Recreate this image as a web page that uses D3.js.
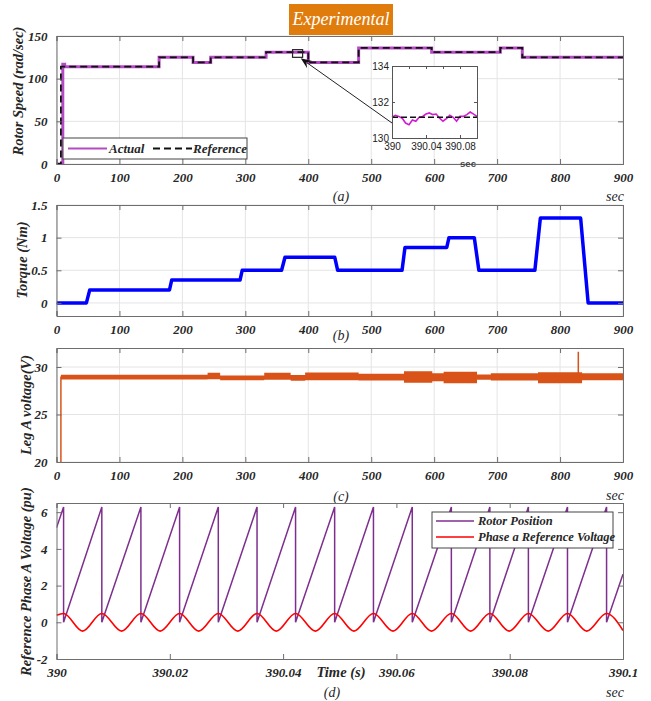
<!DOCTYPE html>
<html><head><meta charset="utf-8">
<script src="https://d3js.org/d3.v7.min.js"></script>
<style>
html,body{margin:0;padding:0;background:#fff}
svg text{font-family:"Liberation Serif","Times New Roman","DejaVu Serif",serif}
svg text.sans{font-family:"Liberation Sans",Arial,sans-serif}
</style>
</head><body>
<script>
// ---------- DATA ----------
const xTicksMain = [0,100,200,300,400,500,600,700,800,900];
// (a) rotor speed
const speedRefX = [0, 7, 163, 217, 245, 333, 400, 480, 596, 705, 740, 900];
const speedRefV = [0, 114, 125, 119, 125, 131, 119, 136, 131, 136, 125, 125];
const speedActX = [0, 10, 13, 163, 217, 245, 333, 400, 480, 596, 705, 740, 900];
const speedActV = [0, 117, 114, 125, 119, 125, 131, 119, 136, 131, 136, 125, 125];
const speedTicks = [0,50,100,150];
// inset
const insetT = [390,390.004,390.008,390.012,390.016,390.02,390.024,390.028,390.032,390.036,390.04,390.044,390.048,390.052,390.056,390.06,390.064,390.068,390.072,390.076,390.08,390.084,390.088,390.092,390.096,390.1];
const insetActual = [131.15,131.26,131.2,131.1,130.83,130.74,131.0,130.93,131.15,131.2,131.33,131.39,131.3,131.33,131.1,130.93,131.07,131.26,131.15,130.93,131.2,131.2,131.3,131.44,131.33,131.2];
const insetRef = 131.15;
const insetXTicks = [390, 390.04, 390.08];
const insetXLabels = ["390", "390.04", "390.08"];
const insetYTicks = [130, 132, 134];
// (b) torque
const torqueX = [0, 47.5, 52.8, 179.5, 183, 291.6, 295, 357.6, 363, 442, 446.7, 549, 553.6, 620, 623.5, 663.8, 671, 760, 768.7, 832.7, 844.6, 900];
const torqueV = [0, 0, 0.2, 0.2, 0.35, 0.35, 0.5, 0.5, 0.7, 0.7, 0.5, 0.5, 0.85, 0.85, 1.0, 1.0, 0.5, 0.5, 1.3, 1.3, 0, 0];
const torqueTicks = [0, 0.5, 1, 1.5];
// (c) leg A voltage band (segment breakpoints, upper/lower envelope)
const legX  = [7, 240, 260, 330, 372, 395, 480, 552, 597, 615, 668, 690, 765, 835, 900];
const legHi = [29.18, 29.4, 29.1, 29.4, 29.15, 29.42, 29.28, 29.55, 29.35, 29.5, 29.2, 29.33, 29.45, 29.33];
const legLo = [28.68, 28.72, 28.6, 28.65, 28.55, 28.6, 28.57, 28.35, 28.5, 28.3, 28.65, 28.57, 28.28, 28.6];
const legStartV = [20, 29.0];
const legSpike = {x: 829, v: 31.6};
const legTicks = [20, 25, 30];
// (d) rotor position & phase a reference voltage
const dXTicks = [390, 390.02, 390.04, 390.06, 390.08, 390.1];
const dXLabels = ["390", "390.02", "390.04", "390.06", "390.08", "390.1"];
const dYTicks = [-2, 0, 2, 4, 6];
const rotorResets = [390.00125, 390.0080, 390.0149, 390.02173, 390.02856, 390.0354, 390.0422, 390.0491, 390.05595, 390.0628, 390.0697, 390.0765, 390.0833, 390.0902, 390.0971];
const rotorStart = 5.15, rotorEnd = 2.62, rotorPeak = 6.28;
const phasePeakT = rotorResets;
const phaseTroughT = [390.0046, 390.0115, 390.0183, 390.0251, 390.0320, 390.0388, 390.0457, 390.0525, 390.0594, 390.0662, 390.0731, 390.0799, 390.0868, 390.0936];
const phasePeak = 0.48, phaseTrough = -0.48, phaseStart = 0.38, phaseEnd = -0.45;

// ---------- LAYOUT ----------
const W = 651, H = 701, XL = 56.5, XR = 623;
const svg = d3.select("body").append("svg").attr("width", W).attr("height", H);
svg.append("rect").attr("width", W).attr("height", H).attr("fill", "#fff");

let clipN = 0;
function panel(o) {
  const x = d3.scaleLinear().domain(o.xd).range([XL, XR]);
  const y = d3.scaleLinear().domain(o.yd).range([o.bottom, o.top]);
  const g = svg.append("g");
  const id = "clip" + (clipN++);
  svg.append("clipPath").attr("id", id).append("rect")
    .attr("x", XL).attr("y", o.top).attr("width", XR - XL).attr("height", o.bottom - o.top);
  if (o.grid) {
    g.selectAll(".gx").data(o.xticks).enter().append("line")
      .attr("x1", d => x(d)).attr("x2", d => x(d)).attr("y1", o.top).attr("y2", o.bottom)
      .attr("stroke", "#e4e4e4").attr("stroke-width", 1);
    g.selectAll(".gy").data(o.yticks).enter().append("line")
      .attr("y1", d => y(d)).attr("y2", d => y(d)).attr("x1", XL).attr("x2", XR)
      .attr("stroke", "#e4e4e4").attr("stroke-width", 1);
  }
  const plot = svg.append("g").attr("clip-path", `url(#${id})`);
  const front = svg.append("g");
  const axB = d3.axisBottom(x).tickValues(o.xticks).tickSize(-5).tickPadding(9)
    .tickFormat((d, i) => o.xlabels ? o.xlabels[i] : d3.format("d")(d));
  const axL = d3.axisLeft(y).tickValues(o.yticks).tickSize(-5).tickPadding(9)
    .tickFormat(d => d);
  const axT = d3.axisTop(x).tickValues(o.xticks).tickSize(-5).tickFormat("");
  const axR = d3.axisRight(y).tickValues(o.yticks).tickSize(-5).tickFormat("");
  const gB = front.append("g").attr("transform", `translate(0,${o.bottom})`).call(axB);
  const gL = front.append("g").attr("transform", `translate(${XL},0)`).call(axL);
  const gT = front.append("g").attr("transform", `translate(0,${o.top})`).call(axT);
  const gR = front.append("g").attr("transform", `translate(${XR},0)`).call(axR);
  [gB, gL, gT, gR].forEach(a => {
    a.attr("font-family", null);
    a.select(".domain").attr("stroke", "#6e6e6e").attr("stroke-width", 1);
    a.selectAll(".tick line").attr("stroke", "#6e6e6e");
    a.selectAll("text").style("font-style", "italic").style("font-weight", "bold")
      .style("font-size", "13px").attr("fill", "#262626");
  });
  return {x, y, plot, front};
}

function ylabel(text, xb, ymid, anchor) {
  svg.append("text").attr("transform", `translate(${xb},${ymid}) rotate(-90)`)
    .attr("text-anchor", anchor || "middle").style("font-style", "italic").style("font-weight", "bold")
    .style("font-size", "14.5px").attr("fill", "#262626").text(text);
}
function caption(text, xc, yb, size) {
  svg.append("text").attr("x", xc).attr("y", yb).attr("text-anchor", "middle")
    .style("font-style", "italic").style("font-size", (size || 14) + "px").attr("fill", "#262626").text(text);
}

// ---------- TITLE ----------
svg.append("rect").attr("x", 289).attr("y", 4).attr("width", 104).attr("height", 31).attr("fill", "#E07C0C");
svg.append("text").attr("x", 341).attr("y", 25).attr("text-anchor", "middle").attr("fill", "#fff")
  .style("font-style", "italic").style("font-size", "18px").text("Experimental");

// ---------- (a) ----------
const A = panel({top: 36, bottom: 164, xd: [0, 900], yd: [0, 150], xticks: xTicksMain, yticks: speedTicks, grid: true});
const stepLine = (sx, sy) => d3.line().x(d => sx(d[0])).y(d => sy(d[1])).curve(d3.curveStepAfter);
A.plot.append("path").datum(speedActX.map((v, i) => [v, speedActV[i]]))
  .attr("d", stepLine(A.x, A.y)).attr("fill", "none").attr("stroke", "#B54BC4").attr("stroke-width", 3);
A.plot.append("path").datum(speedRefX.map((v, i) => [v, speedRefV[i]]))
  .attr("d", stepLine(A.x, A.y)).attr("fill", "none").attr("stroke", "#111").attr("stroke-width", 1.8)
  .attr("stroke-dasharray", "7,4");
A.front.append("rect").attr("x", A.x(375)).attr("y", A.y(134)).attr("width", A.x(391) - A.x(375))
  .attr("height", A.y(125) - A.y(134)).attr("fill", "none").attr("stroke", "#222").attr("stroke-width", 1.2);
// legend (a)
A.front.append("rect").attr("x", 63).attr("y", 138).attr("width", 184).attr("height", 21)
  .attr("fill", "#fff").attr("stroke", "#444").attr("stroke-width", 1);
A.front.append("line").attr("x1", 68).attr("x2", 107).attr("y1", 148.5).attr("y2", 148.5)
  .attr("stroke", "#B54BC4").attr("stroke-width", 2);
A.front.append("text").attr("x", 109).attr("y", 153).style("font-style", "italic").style("font-weight", "bold")
  .style("font-size", "13px").attr("fill", "#262626").text("Actual");
A.front.append("line").attr("x1", 153).attr("x2", 192).attr("y1", 148.5).attr("y2", 148.5)
  .attr("stroke", "#111").attr("stroke-width", 2).attr("stroke-dasharray", "7,4");
A.front.append("text").attr("x", 193).attr("y", 153).style("font-style", "italic").style("font-weight", "bold")
  .style("font-size", "13px").attr("fill", "#262626").text("Reference");
ylabel("Rotor Speed (rad/sec)", 23, 91);
caption("(a)", 341, 201);
caption("sec", 615, 201);

// inset
(function () {
  const L = 392, R = 477, T = 66, B = 138;
  const ix = d3.scaleLinear().domain([390, 390.1]).range([L, R]);
  const iy = d3.scaleLinear().domain([130, 134]).range([B, T]);
  const g = svg.append("g");
  g.append("rect").attr("x", L).attr("y", T).attr("width", R - L).attr("height", B - T).attr("fill", "#fff");
  g.append("path").datum(insetT.map((t, i) => [t, insetActual[i]]))
    .attr("d", d3.line().x(d => ix(d[0])).y(d => iy(d[1]))).attr("fill", "none")
    .attr("stroke", "#D21CD2").attr("stroke-width", 1.6);
  g.append("line").attr("x1", ix(390)).attr("x2", ix(390.1)).attr("y1", iy(insetRef)).attr("y2", iy(insetRef))
    .attr("stroke", "#111").attr("stroke-width", 1.5).attr("stroke-dasharray", "6,3");
  const ab = d3.axisBottom(ix).tickValues(insetXTicks).tickSize(-3).tickPadding(5).tickFormat((d, i) => insetXLabels[i]);
  const al = d3.axisLeft(iy).tickValues(insetYTicks).tickSize(-3).tickPadding(3).tickFormat(d3.format("d"));
  const at = d3.axisTop(ix).tickValues([390.02, 390.04, 390.06, 390.08]).tickSize(-3).tickFormat("");
  const ar = d3.axisRight(iy).tickValues(insetYTicks).tickSize(-3).tickFormat("");
  [[ab, `0,${B}`], [al, `${L},0`], [at, `0,${T}`], [ar, `${R},0`]].forEach(([a, tr]) => {
    const gg = g.append("g").attr("transform", `translate(${tr})`).call(a);
    gg.attr("font-family", null);
    gg.select(".domain").attr("stroke", "#555");
    gg.selectAll(".tick line").attr("stroke", "#555");
    gg.selectAll("text").attr("class", "sans").style("font-size", "10px").attr("fill", "#222");
  });
  g.append("text").attr("class", "sans").attr("x", 468).attr("y", 167).attr("text-anchor", "middle")
    .style("font-size", "9.5px").style("font-weight", "bold").attr("fill", "#444").text("sec");
  // arrow
  const tipX = A.x(388), tipY = A.y(125) + 1;
  const sx = L, sy = 123;
  const ang = Math.atan2(tipY - sy, tipX - sx);
  g.append("line").attr("x1", sx).attr("y1", sy).attr("x2", tipX - 8 * Math.cos(ang)).attr("y2", tipY - 8 * Math.sin(ang))
    .attr("stroke", "#222").attr("stroke-width", 1);
  const hl = 11, hw = 4.5;
  const bx = tipX - hl * Math.cos(ang), by = tipY - hl * Math.sin(ang);
  g.append("path").attr("d", `M${tipX},${tipY}L${bx + hw * Math.sin(ang)},${by - hw * Math.cos(ang)}L${tipX - 7 * Math.cos(ang)},${tipY - 7 * Math.sin(ang)}L${bx - hw * Math.sin(ang)},${by + hw * Math.cos(ang)}Z`)
    .attr("fill", "#111");
})();

// ---------- (b) ----------
const Bp = panel({top: 205, bottom: 316, xd: [0, 900], yd: [-0.2, 1.5], xticks: xTicksMain, yticks: torqueTicks, grid: true});
Bp.plot.append("path").datum(torqueX.map((v, i) => [v, torqueV[i]]))
  .attr("d", d3.line().x(d => Bp.x(d[0])).y(d => Bp.y(d[1]))).attr("fill", "none")
  .attr("stroke", "#0000FF").attr("stroke-width", 3.5).attr("stroke-linejoin", "round");
ylabel("Torque (Nm)", 27, 260);
caption("(b)", 341, 340);

// ---------- (c) ----------
const Cp = panel({top: 348, bottom: 462, xd: [0, 900], yd: [20, 32], xticks: xTicksMain, yticks: legTicks, grid: true});
const bandPts = [];
legHi.forEach((h, i) => { bandPts.push({x: legX[i], hi: h, lo: legLo[i]}); bandPts.push({x: legX[i + 1], hi: h, lo: legLo[i]}); });
Cp.plot.append("path").datum(bandPts)
  .attr("d", d3.area().x(d => Cp.x(d.x)).y0(d => Cp.y(d.lo)).y1(d => Cp.y(d.hi)))
  .attr("fill", "#D95319");
Cp.plot.append("line").attr("x1", Cp.x(legX[0])).attr("x2", Cp.x(legX[0]))
  .attr("y1", Cp.y(legStartV[0])).attr("y2", Cp.y(legStartV[1])).attr("stroke", "#D95319").attr("stroke-width", 1.5);
Cp.plot.append("line").attr("x1", Cp.x(legSpike.x)).attr("x2", Cp.x(legSpike.x))
  .attr("y1", Cp.y(29)).attr("y2", Cp.y(legSpike.v)).attr("stroke", "#D95319").attr("stroke-width", 1.5);
ylabel("Leg A voltage(V)", 31, 405);
caption("(c)", 341, 501);
caption("sec", 615, 500);

// ---------- (d) ----------
const Dp = panel({top: 503, bottom: 659, xd: [390, 390.1], yd: [-2, 6.5], xticks: dXTicks, xlabels: dXLabels, yticks: dYTicks, grid: false});
const rotorPts = [[390, rotorStart]];
rotorResets.forEach(t => { rotorPts.push([t, rotorPeak]); rotorPts.push([t, 0]); });
rotorPts.push([390.1, rotorEnd]);
Dp.plot.append("path").datum(rotorPts)
  .attr("d", d3.line().x(d => Dp.x(d[0])).y(d => Dp.y(d[1]))).attr("fill", "none")
  .attr("stroke", "#7E2F8E").attr("stroke-width", 1.5);
const phasePts = [[390, phaseStart]];
phasePeakT.forEach((t, i) => { phasePts.push([t, phasePeak]); if (i < phaseTroughT.length) phasePts.push([phaseTroughT[i], phaseTrough]); });
phasePts.push([390.1, phaseEnd]);
Dp.plot.append("path").datum(phasePts)
  .attr("d", d3.line().x(d => Dp.x(d[0])).y(d => Dp.y(d[1])).curve(d3.curveMonotoneX)).attr("fill", "none")
  .attr("stroke", "#FF0000").attr("stroke-width", 1.6);
// legend (d)
Dp.front.append("rect").attr("x", 432).attr("y", 512).attr("width", 181).attr("height", 36)
  .attr("fill", "#fff").attr("stroke", "#444").attr("stroke-width", 1);
Dp.front.append("line").attr("x1", 436).attr("x2", 474).attr("y1", 521).attr("y2", 521).attr("stroke", "#7E2F8E").attr("stroke-width", 1.5);
Dp.front.append("line").attr("x1", 436).attr("x2", 474).attr("y1", 537).attr("y2", 537).attr("stroke", "#FF0000").attr("stroke-width", 1.5);
Dp.front.append("text").attr("x", 478).attr("y", 525).style("font-style", "italic").style("font-weight", "bold")
  .style("font-size", "12.5px").attr("fill", "#262626").text("Rotor Position");
Dp.front.append("text").attr("x", 478).attr("y", 541).style("font-style", "italic").style("font-weight", "bold")
  .style("font-size", "12.5px").attr("fill", "#262626").text("Phase a Reference Voltage");
ylabel("Reference Phase A Voltage (pu)", 31, 676, "start");
svg.append("text").attr("x", 341).attr("y", 677).attr("text-anchor", "middle").style("font-style", "italic")
  .style("font-weight", "bold").style("font-size", "14.5px").attr("fill", "#262626").text("Time (s)");
caption("(d)", 332, 697);
caption("sec", 615, 697);
</script>
</body></html>
